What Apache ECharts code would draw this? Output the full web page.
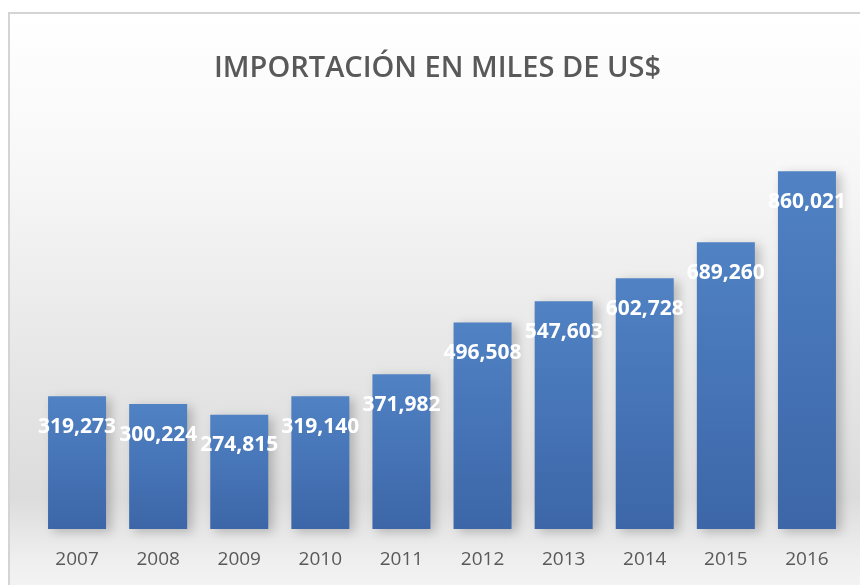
<!DOCTYPE html>
<html>
<head>
<meta charset="utf-8">
<script src="https://cdn.jsdelivr.net/npm/echarts@6/dist/echarts.min.js"></script>
<style>html,body{margin:0;padding:0;background:#fff}#c{width:860px;height:585px}</style>
</head>
<body>
<div id="c"></div>
<script>
const titleText = 'IMPORTACIÓN EN MILES DE US$';
const years = ['2007','2008','2009','2010','2011','2012','2013','2014','2015','2016'];
const imports = [319273, 300224, 274815, 319140, 371982, 496508, 547603, 602728, 689260, 860021];

const chart = echarts.init(document.getElementById('c'), null, {renderer: 'canvas'});
chart.setOption({
  backgroundColor: '#ffffff',
  animation: false,
  graphic: [{
    type: 'rect', z: -10, silent: true,
    shape: {x: 9, y: 13, width: 870, height: 590},
    style: {
      fill: new echarts.graphic.LinearGradient(0, 0, 0, 1, [
        {offset: 0, color: '#ffffff'},
        {offset: 0.25, color: '#f8f8f8'},
        {offset: 0.6, color: '#e6e6e6'},
        {offset: 0.82, color: '#dcdcdc'},
        {offset: 0.92, color: '#eeeeee'},
        {offset: 1, color: '#f6f6f6'}
      ]),
      stroke: '#d4d4d4', lineWidth: 2
    }
  }],
  title: {
    text: titleText,
    left: 214,
    top: 53,
    padding: 0,
    textStyle: {fontFamily: 'Open Sans', fontWeight: 600, fontSize: 29, color: '#595959', lineHeight: 31}
  },
  grid: {left: 36.5, right: 12.5, top: 113, bottom: 56, containLabel: false},
  xAxis: {
    type: 'category',
    data: years,
    axisLine: {show: false},
    axisTick: {show: false},
    axisLabel: {fontFamily: 'Open Sans', fontSize: 19, color: '#595959', margin: 20, lineHeight: 21}
  },
  yAxis: {
    type: 'value', min: 0, max: 1000000,
    show: false,
    splitLine: {show: false}
  },
  series: [{
    type: 'bar',
    data: imports,
    barWidth: 58,
    itemStyle: {
      color: new echarts.graphic.LinearGradient(0, 0, 0, 1, [
        {offset: 0, color: '#5082c4'},
        {offset: 1, color: '#3c66a8'}
      ]),
      shadowColor: 'rgba(0,0,0,0.22)', shadowBlur: 10, shadowOffsetX: 5, shadowOffsetY: 3
    },
    label: {
      show: true,
      position: 'insideTop',
      distance: 20,
      color: '#ffffff',
      fontFamily: 'Open Sans',
      fontWeight: 'bold',
      fontSize: 21,
      lineHeight: 21,
      formatter: p => p.value.toLocaleString('en-US')
    }
  }]
});
</script>
</body>
</html>
